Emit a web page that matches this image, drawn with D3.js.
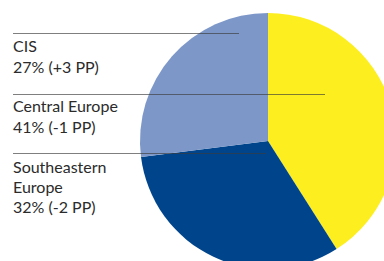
<!DOCTYPE html>
<html>
<head>
<meta charset="utf-8" />
<title>Regional share</title>
<script src="https://d3js.org/d3.v7.min.js"></script>
<style>
  body { margin: 0; background: #fff; }
  text { font-family: Lato, "Noto Sans", sans-serif; fill: #2b2b2b; }
</style>
</head>
<body>
<script>
// data
var categories = ["Central Europe", "Southeastern Europe", "CIS"];
var shares = [41, 32, 27];
var changes = ["-1", "-2", "+3"];
var labelLines = [["Central Europe"], ["Southeastern", "Europe"], ["CIS"]];
var colors = ["#fdee1f", "#00458c", "#7c97c8"];

var w = 384, h = 261;
var cx = 268, cy = 141, r = 128;

var svg = d3.select("body").append("svg")
    .attr("width", w)
    .attr("height", h);

// pie
var pie = d3.pie().sort(null).value(function (d) { return d; });
var arc = d3.arc().innerRadius(0).outerRadius(r);

svg.append("g")
    .attr("transform", "translate(" + cx + "," + cy + ")")
    .selectAll("path")
    .data(pie(shares))
    .enter()
    .append("path")
    .attr("d", arc)
    .attr("fill", function (d, i) { return colors[i]; });

// label blocks: leader line above, text below
var blocks = [
    { idx: 2, lineY: 33, lineX2: 239, textY: 52, step: 21 },
    { idx: 0, lineY: 94, lineX2: 325, textY: 112, step: 21 },
    { idx: 1, lineY: 153, lineX2: 266, textY: 173, step: 20 }
];

var g = svg.selectAll("g.lbl")
    .data(blocks)
    .enter()
    .append("g")
    .attr("class", "lbl");

g.append("line")
    .attr("x1", 13)
    .attr("x2", function (d) { return d.lineX2; })
    .attr("y1", function (d) { return d.lineY + 0.5; })
    .attr("y2", function (d) { return d.lineY + 0.5; })
    .attr("stroke", "#3a3a3a")
    .attr("stroke-opacity", 0.65)
    .attr("stroke-width", 1);

g.append("text")
    .attr("x", 13)
    .attr("y", function (d) { return d.textY; })
    .attr("font-size", 16)
    .each(function (d) {
        var t = d3.select(this);
        var lines = labelLines[d.idx].concat([shares[d.idx] + "% (" + changes[d.idx] + " PP)"]);
        lines.forEach(function (s, k) {
            t.append("tspan")
                .attr("x", 13)
                .attr("dy", k === 0 ? 0 : d.step)
                .text(s);
        });
    });
</script>
</body>
</html>
